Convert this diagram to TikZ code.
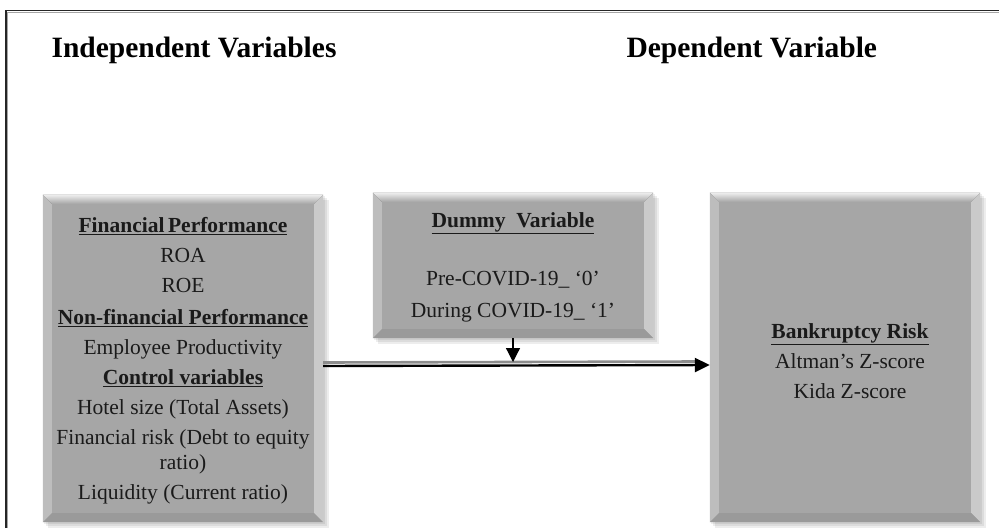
\documentclass[tikz,border=0pt]{standalone}
\usepackage{fontspec}
\setmainfont{Liberation Serif}
\usetikzlibrary{arrows.meta,calc}
\definecolor{boxgray}{HTML}{A6A6A6}
\definecolor{bevlight}{HTML}{EDEDED}
\definecolor{bevside}{HTML}{BDBDBD}
\definecolor{bevdark}{HTML}{9A9A9A}
\definecolor{txt}{HTML}{1A1A1A}
\newcommand\bevelit[1]{%
  \fill[top color=bevlight,bottom color=boxgray] (#1.north west) -- (#1.north east) -- ($(#1.north east)+(-9,9)$) -- ($(#1.north west)+(9,9)$) -- cycle;
  \fill[bevside] (#1.north west) -- ($(#1.north west)+(9,9)$) -- ($(#1.south west)+(9,-9)$) -- (#1.south west) -- cycle;
  \fill[bevside!80!white] (#1.north east) -- ($(#1.north east)+(-9,9)$) -- ($(#1.south east)+(-9,-9)$) -- (#1.south east) -- cycle;
  \fill[bevdark] (#1.south west) -- ($(#1.south west)+(9,-9)$) -- ($(#1.south east)+(-9,-9)$) -- (#1.south east) -- cycle;
}
\newcommand\shadowit[1]{%
  \foreach \s in {2,4,6}{\fill[black,opacity=0.07] ($(#1.north west)+(\s-1,\s-1)$) rectangle ($(#1.south east)+(\s,\s)$);}
}
\newcommand\ulhead[1]{\underline{\textbf{#1}}}
\begin{document}
\begin{tikzpicture}[x=1pt,y=-1pt,
  panel/.style={fill=boxgray,inner sep=0pt},
  heading/.style={anchor=base west,text=black,font=\fontsize{29.5}{34}\selectfont\bfseries},
  bodytext/.style={align=center,text=txt,inner sep=0pt,font=\fontsize{21.5}{25}\selectfont}]
\useasboundingbox (0,0) rectangle (999,528);
% frame
\draw[line width=1.6pt,black!85] (6,528) -- (6,10.5) -- (999,10.5);
\draw[line width=0.6pt,black!35] (7.6,528) -- (7.6,12.3) -- (999,12.3);

\node[heading] (indep) at (48,57) {Independent Variables};
\node[heading] (dep) at (623,57) {Dependent Variable};

% boxes
\node[panel,minimum width=280pt,minimum height=327pt] (left) at (183,358.5) {};
\node[panel,minimum width=280pt,minimum height=145pt] (mid) at (513,265.5) {};
\node[panel,minimum width=270pt,minimum height=329pt] (right) at (845,357.5) {};
\shadowit{left}\shadowit{mid}\shadowit{right}
\fill[boxgray] (left.north west) rectangle (left.south east);
\fill[boxgray] (mid.north west) rectangle (mid.south east);
\fill[boxgray] (right.north west) rectangle (right.south east);
\bevelit{left}\bevelit{mid}\bevelit{right}

\node[bodytext] (lefttext) at (183,361) {%
  \ulhead{Financial\,Performance}\\[5pt]
  ROA\\[5pt]
  ROE\\[7pt]
  \ulhead{Non-financial Performance}\\[5pt]
  Employee Productivity\\[5pt]
  \ulhead{Control variables}\\[5pt]
  Hotel size (Total Assets)\\[5pt]
  Financial risk (Debt to equity\\
  ratio)\\[5pt]
  Liquidity (Current ratio)};
\node[bodytext] (midtext) at (513,267) {%
  \ulhead{Dummy\ \ Variable}\\[33pt]
  Pre-COVID-19\_ `0'\\[7pt]
  During COVID-19\_ `1'};
\node[bodytext] (righttext) at (850,361) {%
  \ulhead{Bankruptcy Risk}\\[5pt]
  Altman's Z-score\\[5pt]
  Kida Z-score};

% connectors
\coordinate (junc) at (mid.south |- 0,362);
\draw[line width=2.6pt,black!45] ($(left.east)+(0,4)$) -- ($(right.west)+(-12,4)$);
\draw[line width=2.4pt,-{Triangle[length=15pt,width=14pt]}] ($(left.east)+(0,7.5)$) -- ($(right.west)+(0,7.5)$);
\draw[line width=1.2pt,-{Triangle[length=14pt,width=14pt]}] (mid.south) -- (junc);
\end{tikzpicture}
\end{document}
